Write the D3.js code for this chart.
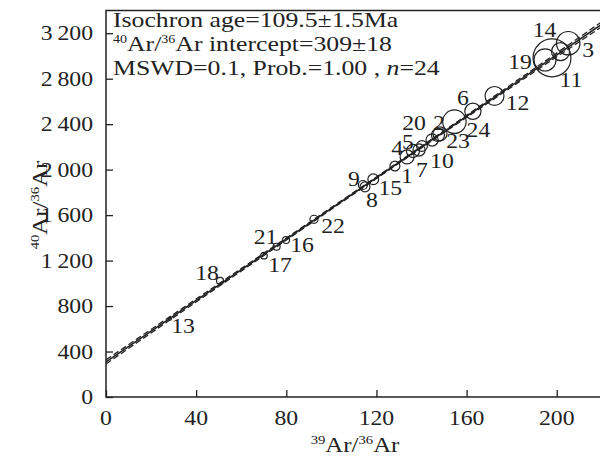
<!DOCTYPE html>
<html>
<head>
<meta charset="utf-8">
<script src="https://cdn.jsdelivr.net/npm/d3@7/dist/d3.min.js"></script>
<style>
  html, body { margin: 0; padding: 0; background: #fff; }
  svg { display: block; }
  text { font-family: "Liberation Serif", "DejaVu Serif", serif; fill: #222; }
</style>
</head>
<body>
<svg id="chart" width="600" height="464"></svg>
<script>
// ---- data ----
const pointIds = [1,2,3,4,5,6,7,8,9,10,11,12,13,14,15,16,17,18,19,20,21,22,23,24];
const x39 = [128.2,147.3,205.1,133.6,136.2,162.8,138.9,114.9,114.0,140.2,197.9,172.4,28.4,201.7,118.6,79.9,70.1,50.6,194.8,144.7,75.7,92.3,148.2,154.6];
const y40 = [2032,2305,3112,2112,2164,2514,2173,1848,1865,2208,2983,2648,690,3038,1915,1381,1243,1021,2965,2261,1322,1563,2314,2422];
// error ellipse half-size (in 39Ar/36Ar units)
const err39 = [2.2,2.9,5.2,3.1,2.9,3.6,2.7,2.2,2.0,2.4,8.4,4.2,0.7,4.0,2.4,1.55,1.45,1.55,4.9,2.7,1.55,1.8,3.1,5.2];
const xTicks = [0,40,80,120,160,200];
const yTicks = [0,400,800,1200,1600,2000,2400,2800,3200];
const isoX = [0, 220];
const isoY = [309, 3279];
const envX = [0, 130, 220];
const envUpper = [327, 2071, 3301];
const envLower = [291, 2057, 3257];
const annotation = ["Isochron age=109.5±1.5Ma", "intercept=309±18", "MSWD=0.1, Prob.=1.00 , "];

// label placement (layout only, px offsets from point centre)
const labelDx = [12,1,20,-10,-5,-10,3,7,-9,20,19,23,13,-16,17,16,16,-13,-25,-18,-11,19,18,24];
const labelDy = [10,-12,7,-9,-9,-13,20,13,-6,15,22,7,7,-22,9,5,9,-8,2,-17,-10,7,7,8];

// ---- layout ----
const SX = 1.13;   // horizontal stretch of the reference typeface
const svg = d3.select("#chart");
const x = d3.scaleLinear().domain([0, 220]).range([106, 601.8]);
const y = d3.scaleLinear().domain([0, 3400]).range([397, 10.5]);
const fmt = d => d >= 1000 ? d3.format(",")(d).replace(",", "\u2009") : String(d);

function txt(parent, px, py, size, anchor, sx) {
  return parent.append("text")
    .attr("transform", `translate(${px},${py}) scale(${sx || SX},1)`)
    .attr("text-anchor", anchor || "start").attr("font-size", size);
}

// frame
svg.append("rect")
  .attr("x", x(0)).attr("y", y(3400))
  .attr("width", x(220) - x(0)).attr("height", y(0) - y(3400))
  .attr("fill", "none").attr("stroke", "#222").attr("stroke-width", 1.5);

// axes (ticks inward)
const xAxis = svg.append("g").attr("transform", `translate(0,${y(0)})`)
  .call(d3.axisTop(x).tickValues(xTicks).tickSize(7).tickFormat(""));
xAxis.select(".domain").remove();
xAxis.selectAll("line").attr("stroke", "#222").attr("stroke-width", 1.3);
const xl = svg.append("g");
xTicks.forEach(d => txt(xl, x(d), 425, 21, "middle").text(d));

const yAxis = svg.append("g").attr("transform", `translate(${x(0)},0)`)
  .call(d3.axisRight(y).tickValues(yTicks).tickSize(7).tickFormat(""));
yAxis.select(".domain").remove();
yAxis.selectAll("line").attr("stroke", "#222").attr("stroke-width", 1.3);
const yl = svg.append("g");
yTicks.forEach(d => txt(yl, 93, y(d) + 7, 21, "end").text(fmt(d)));

// axis titles
const xt = txt(svg, 355, 452, 22, "middle");
xt.append("tspan").attr("font-size", 13).attr("dy", -8).text("39");
xt.append("tspan").attr("dy", 8).text("Ar/");
xt.append("tspan").attr("font-size", 13).attr("dy", -8).text("36");
xt.append("tspan").attr("dy", 8).text("Ar");

const yt = svg.append("text").attr("transform", `translate(47,205) rotate(-90) scale(${SX},1)`)
  .attr("text-anchor", "middle").attr("font-size", 22);
yt.append("tspan").attr("font-size", 13).attr("dy", -8).text("40");
yt.append("tspan").attr("dy", 8).text("Ar/");
yt.append("tspan").attr("font-size", 13).attr("dy", -8).text("36");
yt.append("tspan").attr("dy", 8).text("Ar");

// clip for plot
svg.append("clipPath").attr("id", "clip").append("rect")
  .attr("x", x(0)).attr("y", y(3400)).attr("width", x(220) - x(0)).attr("height", y(0) - y(3400));
const plot = svg.append("g").attr("clip-path", "url(#clip)");

// envelope
const envLine = d3.line().x(d => x(d[0])).y(d => y(d[1])).curve(d3.curveNatural);
[envUpper, envLower].forEach(arr => {
  plot.append("path")
    .attr("d", envLine(envX.map((v, i) => [v, arr[i]])))
    .attr("fill", "none").attr("stroke", "#222").attr("stroke-width", 1.3)
    .attr("stroke-dasharray", "6,3");
});
// isochron
plot.append("path")
  .attr("d", d3.line().x(d => x(d[0])).y(d => y(d[1]))(isoX.map((v, i) => [v, isoY[i]])))
  .attr("fill", "none").attr("stroke", "#222").attr("stroke-width", 1.6);

// error circles
const pts = pointIds.map((id, i) => ({id, x: x39[i], y: y40[i], e: err39[i], dx: labelDx[i], dy: labelDy[i]}));
plot.append("g").selectAll("circle").data(pts).join("circle")
  .attr("cx", d => x(d.x)).attr("cy", d => y(d.y))
  .attr("r", d => x(d.e) - x(0))
  .attr("fill", "none").attr("stroke", "#222").attr("stroke-width", 1.2);

// point labels
const pl = svg.append("g");
pts.forEach(d => txt(pl, x(d.x) + d.dx, y(d.y) + d.dy + 7, 21, "middle").text(d.id));

// annotation
const ax = 113, AS = 1.17;
txt(svg, ax, 27, 22, "start", AS).text(annotation[0]);
const a2 = txt(svg, ax, 51, 22, "start", AS);
a2.append("tspan").attr("font-size", 12).attr("dy", -8).text("40");
a2.append("tspan").attr("dy", 8).text("Ar/");
a2.append("tspan").attr("font-size", 12).attr("dy", -8).text("36");
a2.append("tspan").attr("dy", 8).text("Ar " + annotation[1]);
const a3 = txt(svg, ax, 75, 22, "start", AS);
a3.append("tspan").text(annotation[2]);
a3.append("tspan").attr("font-style", "italic").text("n");
a3.append("tspan").text("=24");
</script>
</body>
</html>
